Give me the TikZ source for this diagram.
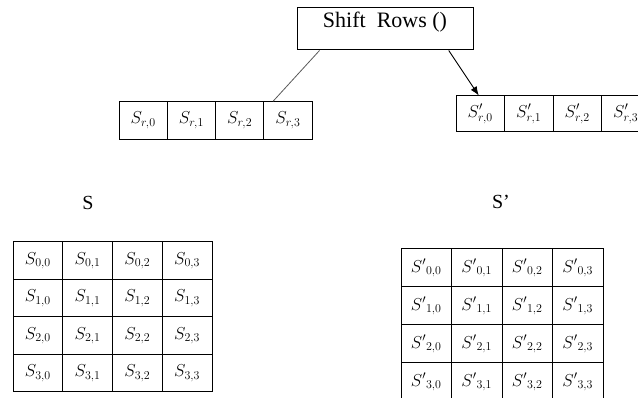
\documentclass[tikz,border=0pt]{standalone}
\usepackage{fontspec}
\setmainfont{Liberation Serif}
\usetikzlibrary{calc,arrows.meta}

\begin{document}
\begin{tikzpicture}[x=1pt,y=-1pt]
  \tikzstyle{cell}=[draw=black,line width=1pt,inner sep=0pt,minimum width=49.75pt,minimum height=37.5pt,font=\fontsize{18.5}{22}\selectfont]
  \useasboundingbox (0,0) rectangle (638,398);
  \clip (0,0) rectangle (638,398);
  \node[draw,line width=1pt,inner sep=0pt,minimum width=176pt,minimum height=42pt,text height=16pt,text depth=18pt,font=\fontsize{22}{26}\selectfont] (shift) at (385,29) {Shift\ \ Rows ()};
  % row before and after the shift
  \foreach \j in {0,...,3}
    \node[cell,minimum width=48.25pt] (r\j) at ({143.125+48.25*\j},120.5) {$S_{r,\j}$};
  \foreach \j in {0,...,3}
    \node[cell,minimum width=48.5pt,minimum height=36pt] (p\j) at ({480.25+48.5*\j},114) {$S'_{r,\j}$};
  \draw[line width=0.8pt,black!65] ($(shift.south west)!0.13!(shift.south east)$) -- ($(r3.north west)!0.2!(r3.north east)$);
  \draw[-{Latex[length=9pt,width=7pt]},line width=0.9pt] ($(shift.south west)!0.86!(shift.south east)$) -- ($(p0.north west)!0.47!(p0.north east)$);
  % state matrices
  \node[font=\fontsize{20}{24}\selectfont] (slab) at (88,203) {S};
  \node[font=\fontsize{20}{24}\selectfont] (plab) at (501,202) {S’};
  \foreach \i in {0,...,3}
    \foreach \j in {0,...,3}
      \node[cell] (s\i\j) at ({37.875+49.75*\j},{260.75+37.5*\i}) {$S_{\i,\j}$};
  \foreach \i in {0,...,3}
    \foreach \j in {0,...,3}
      \node[cell,minimum width=50.5pt,minimum height=38pt] (t\i\j) at ({426.25+50.5*\j},{268+38*\i}) {$S{'}_{\i,\j}$};
\end{tikzpicture}
\end{document}
